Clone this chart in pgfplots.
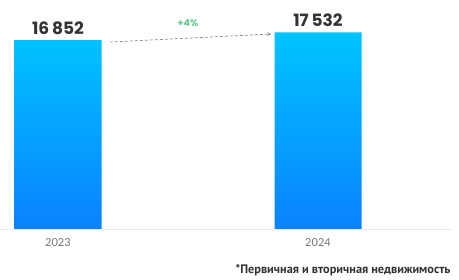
\documentclass[border=0pt]{standalone}
\usepackage{pgfplots}
\pgfplotsset{compat=1.18}
\usepackage{fontspec}
\setmainfont{Poppins}
\newfontfamily\foot{PT Sans}
\newfontfamily\tickf{Lato}
\definecolor{bartop}{HTML}{00C4FF}
\definecolor{barbot}{HTML}{0A82FF}
\definecolor{grn}{HTML}{5CC98A}
\definecolor{txt}{HTML}{333333}
\begin{document}
\begin{tikzpicture}[x=1pt,y=1pt]
\useasboundingbox (0,-51) rectangle (459,229);
\begin{axis}[
  at={(0pt,0pt)}, anchor=south west,
  scale only axis, width=452pt, height=229pt,
  xmin=-0.22308, xmax=1.51538, ymin=0, ymax=20428,
  axis x line=bottom, axis y line=none,
  axis line style={draw=black!9, line width=0.8pt, -},
  xtick=data, xticklabels={2023,2024},
  major tick length=0pt,
  tick label style={font=\tickf\fontsize{11}{12}\selectfont, text=black!55},
  xticklabel style={yshift=-6pt},
  /pgf/number format/assume math mode=true,
  clip=false,
]
\addplot[ybar, bar width=87pt, draw=none, top color=bartop, bottom color=barbot,
  nodes near coords={\pgfmathprintnumber[1000 sep={\,}]{\pgfplotspointmeta}},
  nodes near coords style={font=\bfseries\fontsize{17}{18}\selectfont, text=txt, yshift=2pt},
  point meta=y]
  coordinates {(0,16852) (1,17532)};
\draw[densely dashed, black!45, line width=0.7pt, -stealth] (axis cs:0.2,16681) -- (axis cs:0.82,17395);
\node[font=\bfseries\fontsize{9.5}{10}\selectfont, text=grn] at (axis cs:0.5,18320) {+4\%};
\end{axis}
\node[anchor=east, font=\foot\bfseries\fontsize{12.3}{13}\selectfont, text=txt] at (454,-41) {*Первичная и вторичная недвижимость};
\end{tikzpicture}
\end{document}
